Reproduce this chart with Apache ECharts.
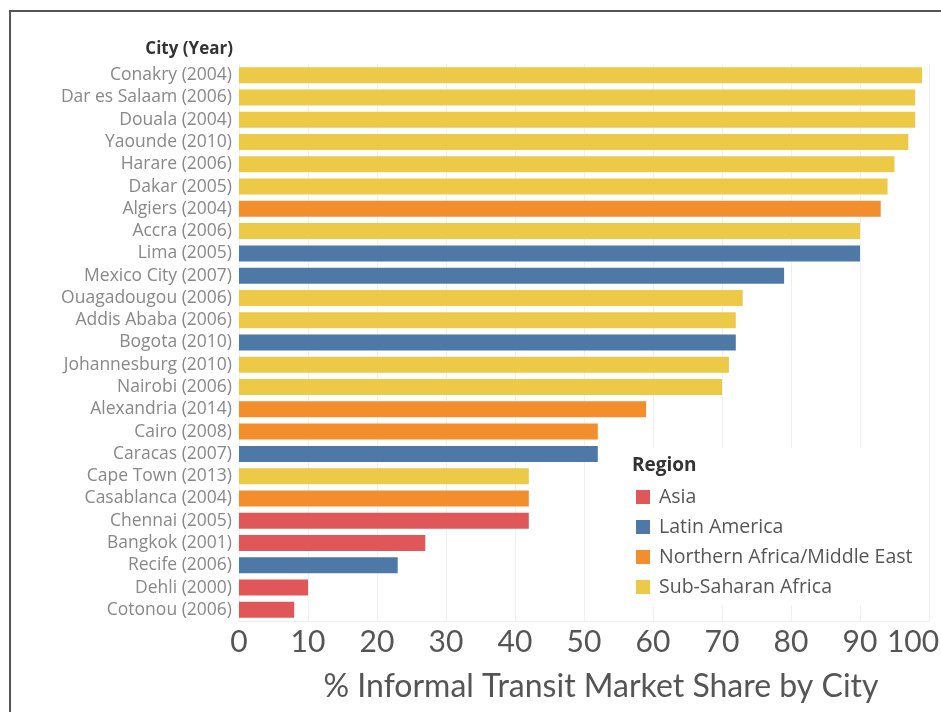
<!DOCTYPE html>
<html>
<head>
<meta charset="utf-8">
<style>
  html, body { margin: 0; padding: 0; background: #fff; }
  #chart { width: 941px; height: 712px; }
</style>
<script src="https://cdn.jsdelivr.net/npm/echarts@6/dist/echarts.min.js"></script>
</head>
<body>
<div id="chart"></div>
<script>
// Cities, top to bottom
const cities = [
  'Conakry (2004)', 'Dar es Salaam (2006)', 'Douala (2004)', 'Yaounde (2010)',
  'Harare (2006)', 'Dakar (2005)', 'Algiers (2004)', 'Accra (2006)', 'Lima (2005)',
  'Mexico City (2007)', 'Ouagadougou (2006)', 'Addis Ababa (2006)', 'Bogota (2010)',
  'Johannesburg (2010)', 'Nairobi (2006)', 'Alexandria (2014)', 'Cairo (2008)',
  'Caracas (2007)', 'Cape Town (2013)', 'Casablanca (2004)', 'Chennai (2005)',
  'Bangkok (2001)', 'Recife (2006)', 'Dehli (2000)', 'Cotonou (2006)'
];
// Informal transit market share (%)
const shares = [99, 98, 98, 97, 95, 94, 93, 90, 90, 79, 73, 72, 72, 71, 70, 59, 52, 52, 42, 42, 42, 27, 23, 10, 8];
// Region of each city
const cityRegion = [
  'Sub-Saharan Africa', 'Sub-Saharan Africa', 'Sub-Saharan Africa', 'Sub-Saharan Africa',
  'Sub-Saharan Africa', 'Sub-Saharan Africa', 'Northern Africa/Middle East', 'Sub-Saharan Africa',
  'Latin America', 'Latin America', 'Sub-Saharan Africa', 'Sub-Saharan Africa', 'Latin America',
  'Sub-Saharan Africa', 'Sub-Saharan Africa', 'Northern Africa/Middle East',
  'Northern Africa/Middle East', 'Latin America', 'Sub-Saharan Africa',
  'Northern Africa/Middle East', 'Asia', 'Asia', 'Latin America', 'Asia', 'Asia'
];
const regions = ['Asia', 'Latin America', 'Northern Africa/Middle East', 'Sub-Saharan Africa'];
const regionColors = ['#e15759', '#4e79a7', '#f28e2b', '#edc948'];
const xTicks = [0, 10, 20, 30, 40, 50, 60, 70, 80, 90, 100];
const xMax = xTicks[xTicks.length - 1];

const chart = echarts.init(document.getElementById('chart'));

// One bar series per region; bars overlap in the same slot so each row shows one bar
const series = regions.map((r, i) => ({
  name: r,
  type: 'bar',
  barWidth: 16,
  barGap: '-100%',
  itemStyle: { color: regionColors[i] },
  data: shares.map((v, k) => (cityRegion[k] === r ? v : '-')),
  emphasis: { disabled: true }
}));

chart.setOption({
  animation: false,
  backgroundColor: '#fff',
  title: [
    {
      text: 'City (Year)',
      right: 941 - 233,
      top: 41,
      textStyle: { fontFamily: 'Open Sans', fontSize: 17, fontWeight: 'bold', color: '#333' },
      padding: 0
    },
    {
      text: 'Region',
      left: 632,
      top: 456,
      z: 20,
      padding: 0,
      textStyle: { fontFamily: 'Open Sans', fontSize: 19, fontWeight: 'bold', color: '#333' }
    }
  ],
  legend: {
    orient: 'vertical',
    left: 626,
    top: 448,
    data: regions,
    icon: 'rect',
    itemWidth: 14,
    itemHeight: 14,
    itemGap: 10,
    padding: [39, 14, 8, 10],
    backgroundColor: '#fff',
    selectedMode: false,
    textStyle: { fontFamily: 'Open Sans', fontSize: 19.5, color: '#555', padding: [0, 0, 0, 4] }
  },
  grid: { left: 239, right: 12, top: 64, bottom: 91, containLabel: false, outerBoundsMode: 'none' },
  xAxis: {
    type: 'value',
    min: xTicks[0],
    max: xMax,
    interval: 10,
    name: '% Informal Transit Market Share by City',
    nameLocation: 'middle',
    nameGap: 50,
    nameTextStyle: { fontFamily: 'Lato', fontSize: 32, color: '#555', padding: [0, 0, 0, 34] },
    axisLine: { show: true, lineStyle: { color: '#eeeeee', width: 1 } },
    axisTick: { show: false },
    axisLabel: {
      fontFamily: 'Lato', fontSize: 30, color: '#555', margin: 6,
      showMaxLabel: true, showMinLabel: true,
      // the last label is pulled inward so it stays inside the frame
      formatter: v => (v === xMax ? '{last|' + v + '}' : String(v)),
      rich: {
        last: { fontFamily: 'Lato', fontSize: 30, color: '#555', padding: [0, 32, 0, 0] }
      }
    },
    splitLine: { show: true, lineStyle: { color: '#f0f0f0', width: 1 } }
  },
  yAxis: {
    type: 'category',
    data: cities,
    inverse: true,
    axisLine: { show: false },
    axisTick: { show: false },
    axisLabel: { fontFamily: 'Open Sans', fontSize: 17.5, color: '#888', margin: 7, interval: 0 }
  },
  graphic: [
    {
      type: 'polyline',
      shape: { points: [[10, 712], [10, 11], [941, 11]] },
      style: { stroke: '#555', lineWidth: 2, fill: null },
      silent: true
    }
  ],
  series: series
});
</script>
</body>
</html>
